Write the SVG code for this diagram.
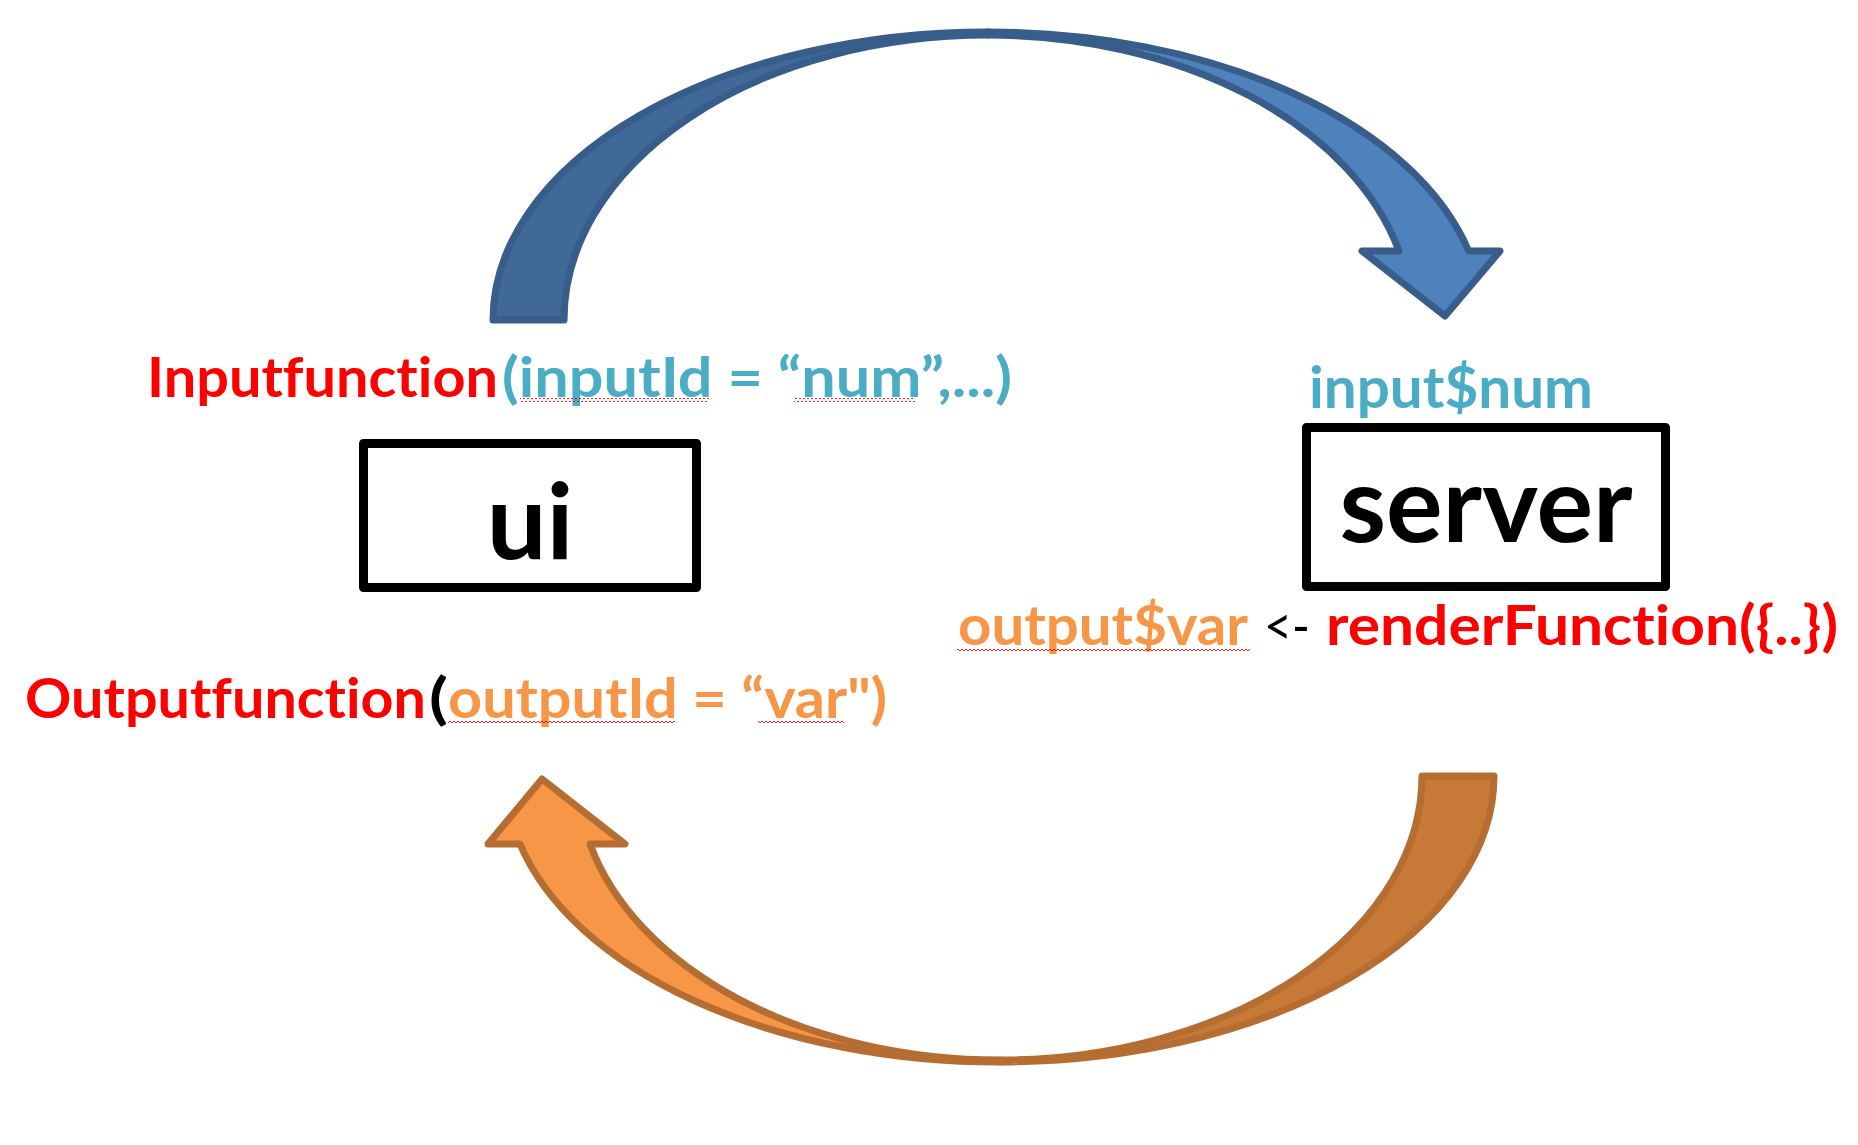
<svg xmlns="http://www.w3.org/2000/svg" width="1858" height="1145" viewBox="0 0 1858 1145">
<style>
  text { font-family: Lato, "Open Sans", "Liberation Sans", sans-serif; font-weight: bold; font-variant-ligatures: none; font-feature-settings: "liga" 0, "clig" 0, "dlig" 0; }
  .lbl { font-size: 55px; }
  .big { font-size: 106px; fill: #000; }
  .red { fill: #FF0000; }
  .blue { fill: #4BACC6; }
  .orange { fill: #F79646; }
  .black { fill: #000000; }
  .thin { font-weight: normal; }
  .box { fill: #FFFFFF; stroke: #000000; stroke-width: 9; stroke-linejoin: round; }
  .bl-dark { fill: #416998; stroke: #385D8A; stroke-width: 7; stroke-linejoin: round; }
  .bl-light { fill: #4F81BD; stroke: #385D8A; stroke-width: 7; stroke-linejoin: round; }
  .or-dark { fill: #C77A37; stroke: #B66D31; stroke-width: 7; stroke-linejoin: round; }
  .or-light { fill: #F79646; stroke: #B66D31; stroke-width: 7; stroke-linejoin: round; }
  .squig { fill: url(#wave); }
</style>
<defs>
  <pattern id="wave" patternUnits="userSpaceOnUse" width="4" height="4">
    <path d="M0,3 L2,1 L4,3" fill="none" stroke="#FF0000" stroke-width="0.9"/>
  </pattern>
</defs>

<rect width="1858" height="1145" fill="#FFFFFF"/>

<g id="connectors">
  <g id="arrow-ui-to-server">
    <path class="bl-dark" d="M 493,320 A 495 288 0 0 1 988,32 L 988,35 A 424 285 0 0 0 564,320 Z"/>
    <path class="bl-light" d="M 988,32 A 495 288 0 0 1 1468.6,251 L 1500,251 L 1445,316 L 1362,251 L 1399,251 A 424 285 0 0 0 988,35 Z"/>
  </g>
  <g id="arrow-server-to-ui">
    <path class="or-dark" d="M 1494,776 A 494 286 0 0 1 1000,1062 L 1000,1060 A 422 284 0 0 0 1422,776 Z"/>
    <path class="or-light" d="M 1000,1062 A 494 286 0 0 1 520,844 L 488,844 L 542,779 L 625,844 L 590,844 A 422 284 0 0 0 1000,1060 Z"/>
  </g>
</g>

<g id="node-ui">
  <rect class="box" x="363.5" y="443.5" width="333" height="144"/>
  <text class="big" x="530" y="559" text-anchor="middle">ui</text>
</g>

<g id="node-server">
  <rect class="box" x="1306.5" y="427.5" width="359" height="159"/>
  <text class="big" x="1486" y="542" text-anchor="middle">server</text>
</g>

<g id="label-input">
  <text class="lbl red" x="147" y="397" textLength="351" lengthAdjust="spacingAndGlyphs">Inputfunction</text>
  <text class="lbl blue" x="502" y="397" textLength="510" lengthAdjust="spacingAndGlyphs">(inputId = “num”,...)</text>
  <rect class="squig" x="520" y="398" width="189" height="4"/>
  <rect class="squig" x="794" y="398" width="121" height="4"/>
</g>

<g id="label-input-num">
  <text class="lbl blue" x="1309" y="408" textLength="284" lengthAdjust="spacingAndGlyphs" style="font-size:58px">input$num</text>
</g>

<g id="label-render">
  <text class="lbl orange" x="958" y="645" textLength="290" lengthAdjust="spacingAndGlyphs">output$var</text>
  <text class="lbl black thin" x="1264" y="645" textLength="46" lengthAdjust="spacingAndGlyphs">&lt;-</text>
  <text class="lbl red" x="1326" y="645" textLength="512" lengthAdjust="spacingAndGlyphs">renderFunction({..})</text>
  <rect class="squig" x="957" y="647" width="293" height="4"/>
</g>

<g id="label-output">
  <text class="lbl red" x="25" y="718" textLength="401" lengthAdjust="spacingAndGlyphs">Outputfunction</text>
  <text class="lbl black" x="429" y="718" textLength="19" lengthAdjust="spacingAndGlyphs">(</text>
  <text class="lbl orange" x="448" y="718" textLength="439" lengthAdjust="spacingAndGlyphs">outputId = “var")</text>
  <rect class="squig" x="448" y="720" width="227" height="4"/>
  <rect class="squig" x="758" y="720" width="86" height="4"/>
</g>
</svg>
